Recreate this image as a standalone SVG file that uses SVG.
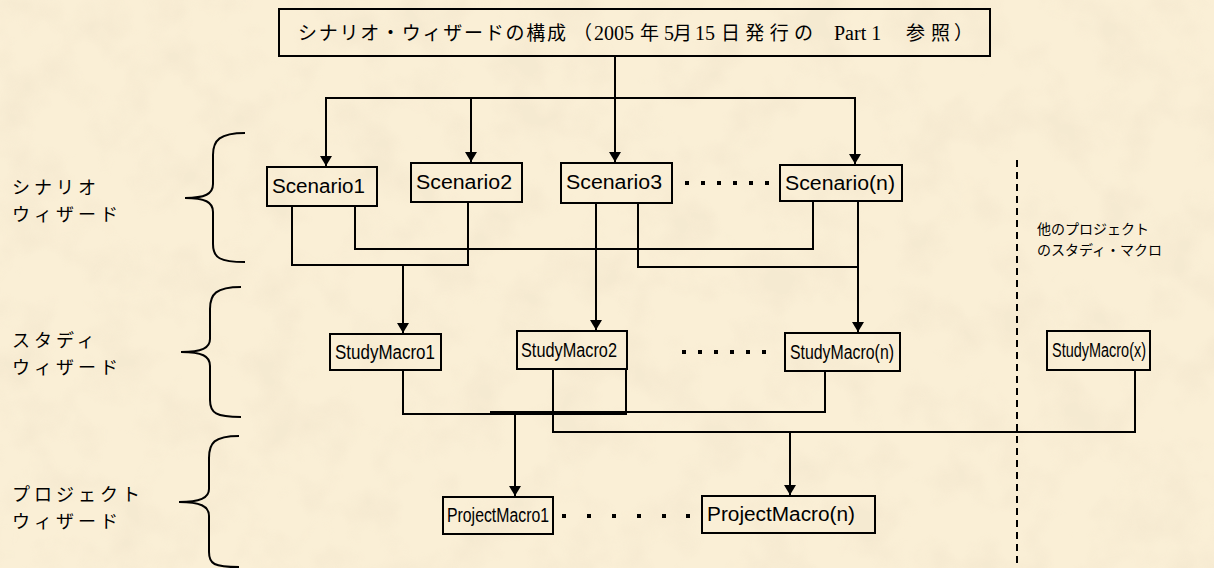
<svg xmlns="http://www.w3.org/2000/svg" width="1214" height="568" viewBox="0 0 1214 568">
<style>
.box{fill:none;stroke:#000;stroke-width:2}
.ln{fill:none;stroke:#000;stroke-width:2}
.lbl{font-family:"Liberation Sans",Arial,sans-serif;font-size:20px;fill:#000}
.jp{font-family:"Noto Sans CJK JP","Noto Sans",sans-serif;fill:#000}
.ser{font-family:"Liberation Serif","Noto Sans CJK JP",serif}
.dot{fill:#000}
</style>
<defs>
<filter id="paper" x="0" y="0" width="100%" height="100%">
<feTurbulence type="fractalNoise" baseFrequency="0.02" numOctaves="3" seed="7"/>
<feColorMatrix type="matrix" values="0 0 0 0 0.90  0 0 0 0 0.80  0 0 0 0 0.62  3.2 0 0 0 -1.4"/>
</filter>
<marker id="arr" viewBox="0 0 10 12" refX="10" refY="6" markerWidth="10" markerHeight="12" markerUnits="userSpaceOnUse" orient="auto">
<path d="M0,0 L10,6 L0,12 Z" fill="#000"/>
</marker>
</defs>
<rect width="1214" height="568" fill="#faefd6"/>
<rect width="1214" height="568" filter="url(#paper)" opacity="0.6"/>

<g id="brace-scenario"><path class="ln" d="M245,133 C220,133 213,140 213,155 L213,184 C213,194 205,198 185,198 C205,198 213,202 213,212 L213,244 C213,258 220,262 245,262"/></g>
<g id="brace-study"><path class="ln" d="M241,287 C216,287 210,294 210,309 L210,339 C210,348 202,352 181,352 C202,352 210,356 210,366 L210,400 C210,413 216,417 241,417"/></g>
<g id="brace-project"><path class="ln" d="M239,436 C214,436 209,443 209,458 L209,489 C209,498 200,502 179,502 C200,502 209,506 209,516 L209,552 C209,564 214,567 239,567"/></g>

<g id="label-scenario" class="jp" font-size="18" letter-spacing="4"><text x="12" y="194">シナリオ</text><text x="12" y="221">ウィザード</text></g>
<g id="label-study" class="jp" font-size="18" letter-spacing="4"><text x="12" y="347">スタディ</text><text x="12" y="374">ウィザード</text></g>
<g id="label-project" class="jp" font-size="18" letter-spacing="4"><text x="12" y="501">プロジェクト</text><text x="12" y="528">ウィザード</text></g>
<g id="label-other" class="jp" font-size="14"><text x="1037" y="234">他のプロジェクト</text><text x="1037" y="255">のスタディ・マクロ</text></g>

<g id="title">
<rect class="box" x="279" y="9" width="711" height="47"/>
<text class="jp" font-size="19" y="40"><tspan x="298" textLength="268" lengthAdjust="spacing">シナリオ・ウィザードの構成</tspan><tspan x="573">（</tspan><tspan class="ser" x="594" font-size="20">2005</tspan><tspan x="640">年</tspan><tspan class="ser" x="664" font-size="20">5</tspan><tspan x="673">月</tspan><tspan class="ser" x="695" font-size="20">15</tspan><tspan x="721" textLength="92" lengthAdjust="spacing">日発行の</tspan><tspan class="ser" x="834" font-size="20">Part 1</tspan><tspan x="906" textLength="44" lengthAdjust="spacing">参照</tspan><tspan x="954">）</tspan></text>
</g>

<g id="scenario1"><rect class="box" x="267" y="167" width="110" height="39"/><text class="lbl" x="272" y="193" textLength="93" lengthAdjust="spacingAndGlyphs">Scenario1</text></g>
<g id="scenario2"><rect class="box" x="411" y="163" width="111" height="39"/><text class="lbl" x="416" y="189" textLength="96" lengthAdjust="spacingAndGlyphs">Scenario2</text></g>
<g id="scenario3"><rect class="box" x="561" y="163" width="111" height="40"/><text class="lbl" x="566" y="189" textLength="96" lengthAdjust="spacingAndGlyphs">Scenario3</text></g>
<g id="scenarion"><rect class="box" x="780" y="165" width="122" height="36"/><text class="lbl" x="785" y="190" textLength="110" lengthAdjust="spacingAndGlyphs">Scenario(n)</text></g>

<g id="studymacro1"><rect class="box" x="330" y="334" width="111" height="36"/><text class="lbl" x="335" y="359" textLength="100" lengthAdjust="spacingAndGlyphs">StudyMacro1</text></g>
<g id="studymacro2"><rect class="box" x="517" y="331" width="110" height="38"/><text class="lbl" x="521" y="357" textLength="96" lengthAdjust="spacingAndGlyphs">StudyMacro2</text></g>
<g id="studymacron"><rect class="box" x="785" y="333" width="115" height="38"/><text class="lbl" x="790" y="359" textLength="104" lengthAdjust="spacingAndGlyphs">StudyMacro(n)</text></g>
<g id="studymacrox"><rect class="box" x="1047" y="331" width="103" height="39"/><text class="lbl" x="1052" y="357" textLength="94" lengthAdjust="spacingAndGlyphs">StudyMacro(x)</text></g>

<g id="projectmacro1"><rect class="box" x="443" y="497" width="110" height="37"/><text class="lbl" x="447" y="522" textLength="102" lengthAdjust="spacingAndGlyphs">ProjectMacro1</text></g>
<g id="projectmacron"><rect class="box" x="702" y="496" width="173" height="37"/><text class="lbl" x="707" y="521" textLength="148" lengthAdjust="spacingAndGlyphs">ProjectMacro(n)</text></g>

<g id="ellipses">
<g class="dot"><rect x="685" y="181" width="4" height="4"/><rect x="701" y="181" width="4" height="4"/><rect x="717" y="181" width="4" height="4"/><rect x="733" y="181" width="4" height="4"/><rect x="749" y="181" width="4" height="4"/><rect x="765" y="181" width="4" height="4"/></g>
<g class="dot"><rect x="682" y="350" width="4" height="4"/><rect x="698" y="350" width="4" height="4"/><rect x="714" y="350" width="4" height="4"/><rect x="730" y="350" width="4" height="4"/><rect x="746" y="350" width="4" height="4"/><rect x="762" y="350" width="4" height="4"/></g>
<g class="dot"><rect x="562" y="514" width="4" height="4"/><rect x="587" y="514" width="4" height="4"/><rect x="612" y="514" width="4" height="4"/><rect x="637" y="514" width="4" height="4"/><rect x="662" y="514" width="4" height="4"/><rect x="686" y="514" width="4" height="4"/></g>
</g>

<g id="connectors">
<path class="ln" d="M615,56 V98"/>
<path class="ln" d="M325,98 H856"/>
<path class="ln" d="M326,98 V166" marker-end="url(#arr)"/>
<path class="ln" d="M471,98 V162" marker-end="url(#arr)"/>
<path class="ln" d="M615,98 V162" marker-end="url(#arr)"/>
<path class="ln" d="M855,98 V164" marker-end="url(#arr)"/>

<path class="ln" d="M292,206 V265 H468 V202"/>
<path class="ln" d="M403,265 V333" marker-end="url(#arr)"/>
<path class="ln" d="M355,206 V249 H813 V201"/>
<path class="ln" d="M596,203 V330" marker-end="url(#arr)"/>
<path class="ln" d="M638,203 V267 H858 V201"/>
<path class="ln" d="M858,267 V332" marker-end="url(#arr)"/>

<path class="ln" d="M403,370 V414 H626 V369"/>
<path class="ln" d="M825,371 V412 H490"/>
<path class="ln" d="M515,413 V496" marker-end="url(#arr)"/>
<path class="ln" d="M553,369 V432 H1135 V370"/>
<path class="ln" d="M790,432 V495" marker-end="url(#arr)"/>
</g>

<g id="divider"><path d="M1017,160 V568" fill="none" stroke="#000" stroke-width="2" stroke-dasharray="7,5"/></g>
</svg>
